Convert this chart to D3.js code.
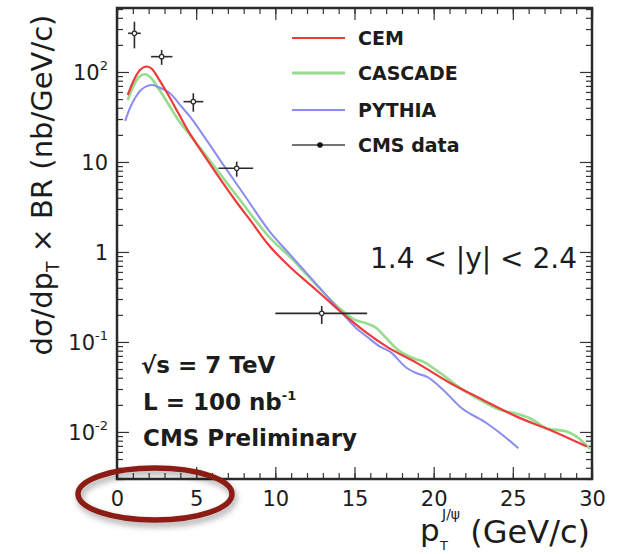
<!DOCTYPE html>
<html>
<head>
<meta charset="utf-8">
<script src="https://cdn.jsdelivr.net/npm/d3@7"></script>
<style>
  body { margin: 0; background: #fff; }
  svg text { font-family: "DejaVu Sans", sans-serif; fill: #1c1c1c; }
</style>
</head>
<body>
<svg id="chart" width="617" height="554"></svg>
<script>
// J/psi differential cross section, 1.4 < |y| < 2.4

// CEM prediction
const cemPt  = [0.68, 1.01, 1.45, 1.88, 2.21, 2.61, 3.24, 3.87, 4.61, 5.35, 6.38, 7.45, 8.40, 9.47, 10.99, 12.0, 13.01, 14.21, 15.77, 17.03, 18.93, 21.03, 23.12, 25.24, 27.35, 29.67];
const cemVal = [55.5, 77.4, 105, 115, 108, 85.1, 55.5, 35.0, 20.5, 13.0, 7.0, 3.78, 2.27, 1.26, 0.664, 0.464, 0.324, 0.21, 0.126, 0.0887, 0.0585, 0.035, 0.0227, 0.0148, 0.0105, 0.00687];

// CASCADE prediction
const cascadePt  = [0.68, 1.01, 1.39, 1.77, 2.15, 2.61, 3.24, 3.87, 4.61, 5.35, 6.51, 7.77, 9.66, 10.99, 12.0, 13.01, 14.02, 15.03, 15.66, 16.4, 16.93, 17.67, 18.69, 19.33, 20.4, 21.85, 22.93, 24.19, 25.01, 26.08, 27.14, 28.4, 29.03, 29.87];
const cascadeVal = [48.9, 68.1, 88, 94.3, 85.8, 65.9, 44.1, 29.3, 20.0, 13.6, 7.36, 3.78, 1.43, 0.858, 0.555, 0.36, 0.239, 0.176, 0.163, 0.142, 0.114, 0.0836, 0.0664, 0.0604, 0.0453, 0.0293, 0.0227, 0.0176, 0.0163, 0.0142, 0.011, 0.0101, 0.00887, 0.00648];

// PYTHIA prediction
const pythiaPt  = [0.51, 0.82, 1.14, 1.45, 1.77, 2.19, 2.59, 3.35, 4.09, 4.61, 5.56, 6.51, 8.08, 9.66, 10.99, 12.0, 13.01, 14.21, 15.09, 15.77, 16.61, 17.24, 18.3, 18.93, 19.56, 20.61, 21.66, 23.35, 24.19, 25.35];
const pythiaVal = [28.5, 39.8, 51.4, 61.5, 68.1, 71.7, 68.1, 58, 40.8, 31.9, 18.5, 10.5, 4.19, 1.67, 0.912, 0.575, 0.363, 0.21, 0.143, 0.115, 0.0887, 0.078, 0.0514, 0.0449, 0.0411, 0.0293, 0.0191, 0.0125, 0.00975, 0.00659];

// CMS data points with bin edges and uncertainties
const dataPt    = [1.1, 2.82, 4.82, 7.56, 12.93];
const dataPtLo  = [0.7, 2.15, 4.2, 6.4, 10.0];
const dataPtHi  = [1.5, 3.5, 5.45, 8.6, 15.8];
const dataVal   = [269, 148, 46.8, 8.5, 0.208];
const dataErrUp = [93, 28, 11.2, 1.6, 0.043];
const dataErrDn = [86, 28, 10.6, 1.63, 0.05];

// Axis ticks
const xMajorTicks = [0, 5, 10, 15, 20, 25, 30];
const yMajorTicks = [0.01, 0.1, 1, 10, 100];
const yTickMantissa = ["10", "10", "1", "10", "10"];
const yTickExponent = ["-2", "-1", "", "", "2"];

const legendNames = ["CEM", "CASCADE", "PYTHIA", "CMS data"];
const seriesColors = ["#ee3a3a", "#96dc8c", "#8a8cef"];

const svg = d3.select("#chart");
const plotLeft = 117, plotRight = 592, plotTop = 8, plotBottom = 479;

const x = d3.scaleLinear().domain([0, 30]).range([plotLeft, plotRight]);
const y = d3.scaleLog().domain([0.003, 514]).range([plotBottom, plotTop]);

// Axes: ticks point inward on all four sides
const xMinor = d3.range(0, 31, 1);
const yMinor = [];
for (let e = -3; e <= 2; e++) for (let m = 2; m <= 9; m++) {
  const v = m * Math.pow(10, e);
  if (v >= 0.003 && v <= 514) yMinor.push(v);
}

function styleAxis(g) {
  g.select(".domain").remove();
  g.selectAll(".tick line").attr("stroke", "#333").attr("stroke-width", 1.2);
}

svg.append("g").attr("transform", `translate(0,${plotBottom})`)
  .call(d3.axisBottom(x).tickValues(xMinor).tickSize(-6).tickFormat(""))
  .call(styleAxis);
const xAxisG = svg.append("g").attr("transform", `translate(0,${plotBottom})`)
  .call(d3.axisBottom(x).tickValues(xMajorTicks).tickSize(-12).tickPadding(12).tickFormat(d3.format("d")))
  .call(styleAxis);
xAxisG.selectAll(".tick text").attr("font-size", 21).attr("font-family", "DejaVu Sans").attr("fill", "#1c1c1c");

svg.append("g").attr("transform", `translate(0,${plotTop})`)
  .call(d3.axisTop(x).tickValues(xMinor).tickSize(-6).tickFormat(""))
  .call(styleAxis);
svg.append("g").attr("transform", `translate(0,${plotTop})`)
  .call(d3.axisTop(x).tickValues(xMajorTicks).tickSize(-12).tickFormat(""))
  .call(styleAxis);

svg.append("g").attr("transform", `translate(${plotLeft},0)`)
  .call(d3.axisLeft(y).tickValues(yMinor).tickSize(-6).tickFormat(""))
  .call(styleAxis);
const yAxisG = svg.append("g").attr("transform", `translate(${plotLeft},0)`)
  .call(d3.axisLeft(y).tickValues(yMajorTicks).tickSize(-12).tickPadding(9).tickFormat(""))
  .call(styleAxis);

svg.append("g").attr("transform", `translate(${plotRight},0)`)
  .call(d3.axisRight(y).tickValues(yMinor).tickSize(-6).tickFormat(""))
  .call(styleAxis);
svg.append("g").attr("transform", `translate(${plotRight},0)`)
  .call(d3.axisRight(y).tickValues(yMajorTicks).tickSize(-12).tickFormat(""))
  .call(styleAxis);

// y tick labels with exponents
yAxisG.selectAll(".tick").each(function(d, i) {
  const t = d3.select(this).select("text")
    .attr("font-size", 21).attr("font-family", "DejaVu Sans").attr("fill", "#1c1c1c")
    .attr("dy", "0.36em").text(null);
  t.append("tspan").text(yTickMantissa[i]);
  if (yTickExponent[i]) {
    t.append("tspan").attr("font-size", 13).attr("dy", "-0.75em").text(yTickExponent[i]);
  }
});

// Frame
svg.append("rect").attr("x", plotLeft).attr("y", plotTop)
  .attr("width", plotRight - plotLeft).attr("height", plotBottom - plotTop)
  .attr("fill", "none").attr("stroke", "#2a2a2a").attr("stroke-width", 2.5);

// Model curves
const line = d3.line().x(d => x(d[0])).y(d => y(d[1])).curve(d3.curveMonotoneX);
const series = [
  d3.zip(cascadePt, cascadeVal),
  d3.zip(pythiaPt, pythiaVal),
  d3.zip(cemPt, cemVal)
];
const seriesColorOrder = [seriesColors[1], seriesColors[2], seriesColors[0]];
const seriesWidth = [2.6, 2, 2.2];
series.forEach((s, i) => {
  svg.append("path").datum(s).attr("d", line)
    .attr("fill", "none").attr("stroke", seriesColorOrder[i])
    .attr("stroke-width", seriesWidth[i]).attr("stroke-linejoin", "round");
});

// Data points with error bars
const dataG = svg.append("g").attr("stroke", "#2b2b2b").attr("stroke-width", 1.6);
dataPt.forEach((p, i) => {
  const cy = y(dataVal[i]);
  dataG.append("line").attr("x1", x(dataPtLo[i])).attr("x2", x(dataPtHi[i])).attr("y1", cy).attr("y2", cy);
  dataG.append("line").attr("x1", x(p)).attr("x2", x(p))
    .attr("y1", y(dataVal[i] + dataErrUp[i])).attr("y2", y(dataVal[i] - dataErrDn[i]));
  dataG.append("circle").attr("cx", x(p)).attr("cy", cy).attr("r", 2.2)
    .attr("fill", "#fff").attr("stroke-width", 1.2);
});

// Legend
const legendY = [38, 73, 110, 145];
legendNames.forEach((name, i) => {
  const ly = legendY[i];
  const col = i < 3 ? seriesColors[i] : "#444";
  svg.append("line").attr("x1", 292).attr("x2", 345).attr("y1", ly).attr("y2", ly)
    .attr("stroke", col).attr("stroke-width", i === 1 ? 3 : (i === 3 ? 1.5 : 2.2));
  if (i === 3) svg.append("circle").attr("cx", 320).attr("cy", ly).attr("r", 2.8).attr("fill", "#111");
  svg.append("text").attr("x", 358).attr("y", ly).attr("dy", "0.36em")
    .attr("font-size", 19).attr("font-weight", "bold").text(name);
});

// Rapidity range
svg.append("text").attr("x", 577).attr("y", 268).attr("text-anchor", "end")
  .attr("font-size", 28).text("1.4 < |y| < 2.4");

// Run conditions
const info = svg.append("g").attr("font-weight", "bold").attr("font-size", 23);
info.append("text").attr("x", 141).attr("y", 373).text("\u221As = 7 TeV");
const lum = info.append("text").attr("x", 143).attr("y", 410);
lum.append("tspan").text("L = 100 nb");
lum.append("tspan").attr("font-size", 13).attr("dy", "-0.8em").text("-1");
info.append("text").attr("x", 143).attr("y", 446).text("CMS Preliminary");

// Axis titles
const yTitle = svg.append("text")
  .attr("transform", "translate(52,185) rotate(-90)")
  .attr("text-anchor", "middle").attr("font-size", 29);
yTitle.append("tspan").text("d\u03C3/dp");
yTitle.append("tspan").attr("font-size", 17).attr("dy", "0.4em").text("T");
yTitle.append("tspan").attr("dy", "-0.25em").text(" \u00D7 BR (nb/GeV/c)");

const xTitle = svg.append("g");
xTitle.append("text").attr("x", 420).attr("y", 541).attr("font-size", 31).text("p");
xTitle.append("text").attr("x", 440).attr("y", 550).attr("font-size", 13).text("T");
xTitle.append("text").attr("x", 442).attr("y", 519).attr("font-size", 14).text("J/\u03C8");
xTitle.append("text").attr("x", 590).attr("y", 543).attr("text-anchor", "end")
  .attr("font-size", 32).text("(GeV/c)");

// Highlight ellipse around the low-pT axis range
const defs = svg.append("defs");
const f = defs.append("filter").attr("id", "shadow").attr("x", "-20%").attr("y", "-30%").attr("width", "140%").attr("height", "170%");
f.append("feDropShadow").attr("dx", 2).attr("dy", 4).attr("stdDeviation", 3).attr("flood-color", "#000").attr("flood-opacity", 0.35);
svg.append("ellipse").attr("cx", x(2.4)).attr("cy", 494).attr("rx", 77).attr("ry", 26)
  .attr("fill", "none").attr("stroke", "#8c1c12").attr("stroke-width", 5.5)
  .attr("filter", "url(#shadow)");
</script>
</body>
</html>
